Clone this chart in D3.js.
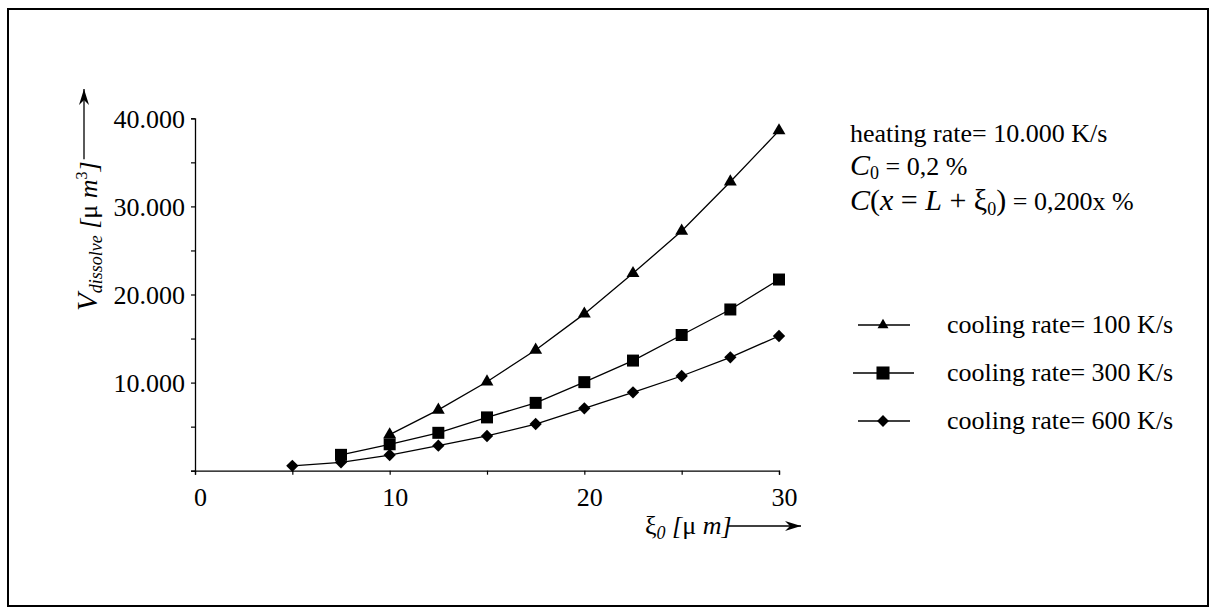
<!DOCTYPE html>
<html lang="en">
<head>
<meta charset="UTF-8">
<title>V_dissolve</title>
<script src="https://cdn.jsdelivr.net/npm/d3@7/dist/d3.min.js"></script>
<style>
    body{margin:0;background:#fff;}
    svg text{font-family:"Liberation Serif","Times New Roman",serif;fill:#000;}
</style>
</head>
<body>
<svg width="1216" height="614"></svg>
<script>
    // x = xi_0 [um], y = V_dissolve [um^3]
    var xi_100 = [10, 12.5, 15, 17.5, 20, 22.5, 25, 27.5, 30];
    var v_100  = [4100, 6900, 10100, 13700, 17800, 22400, 27200, 32800, 38600];
    var xi_300 = [7.5, 10, 12.5, 15, 17.5, 20, 22.5, 25, 27.5, 30];
    var v_300  = [1800, 3000, 4300, 6050, 7700, 10050, 12500, 15400, 18300, 21700];
    var xi_600 = [5, 7.5, 10, 12.5, 15, 17.5, 20, 22.5, 25, 27.5, 30];
    var v_600  = [550, 950, 1780, 2840, 3940, 5300, 7080, 8900, 10750, 12870, 15290];

    var series_names = ["cooling rate= 100 K/s", "cooling rate= 300 K/s", "cooling rate= 600 K/s"];
    var x_ticks = [0, 5, 10, 15, 20, 25, 30];
    var x_labels = [0, 10, 20, 30];
    var y_ticks = [0, 5000, 10000, 15000, 20000, 25000, 30000, 35000, 40000];
    var y_labels = [10000, 20000, 30000, 40000];

    var svg = d3.select("svg");

    // frame
    svg.append("rect")
        .attr("x", 8).attr("y", 9)
        .attr("width", 1200).attr("height", 597)
        .attr("fill", "none").attr("stroke", "#000").attr("stroke-width", 2);

    var x = d3.scaleLinear().domain([0, 30]).range([195, 779]);
    var y = d3.scaleLinear().domain([0, 40000]).range([470.7, 118.3]);

    var loc = d3.formatLocale({decimal: ",", thousands: ".", grouping: [3], currency: ["", ""]});
    var fmt = loc.format(",d");

    // axes
    var gx = svg.append("g").attr("transform", "translate(0," + y(0) + ")")
        .call(d3.axisBottom(x).tickValues(x_ticks).tickSize(4).tickPadding(13)
            .tickFormat(function(d){ return x_labels.indexOf(d) >= 0 ? d : ""; }));
    var gy = svg.append("g").attr("transform", "translate(" + x(0) + ",0)")
        .call(d3.axisLeft(y).tickValues(y_ticks).tickSize(4).tickPadding(6)
            .tickFormat(function(d){ return y_labels.indexOf(d) >= 0 ? fmt(d) : ""; }));
    [gx, gy].forEach(function(g){
        g.select(".domain").attr("stroke", "#000").attr("stroke-width", 1.3);
        g.selectAll(".tick line").attr("stroke", "#000").attr("stroke-width", 1.2);
        g.selectAll(".tick text").attr("font-size", 26).attr("font-family", "Liberation Serif");
    });
    gx.selectAll(".tick text").attr("dx", 5);
    gy.selectAll(".tick text").attr("dy", "0.34em");

    // arrow head
    svg.append("defs").append("marker")
        .attr("id", "arr").attr("viewBox", "0 0 16 10")
        .attr("refX", 16).attr("refY", 5)
        .attr("markerWidth", 16).attr("markerHeight", 10)
        .attr("markerUnits", "userSpaceOnUse")
        .attr("orient", "auto")
        .append("path").attr("d", "M0,0 L16,5 L0,10 L5,5 Z").attr("fill", "#000");

    // y axis title (rotated) + arrow
    var ylab = svg.append("text")
        .attr("transform", "translate(97,311) rotate(-90)")
        .attr("font-size", 26).attr("font-style", "italic");
    ylab.append("tspan").attr("font-size", 29).text("V");
    ylab.append("tspan").attr("font-size", 18).attr("dy", 5).text("dissolve");
    ylab.append("tspan").attr("dy", -5).text(" [");
    ylab.append("tspan").attr("font-style", "normal").text("μ");
    ylab.append("tspan").text(" m");
    ylab.append("tspan").attr("font-size", 16).attr("font-style", "normal").attr("dy", -10).text("3");
    ylab.append("tspan").attr("dy", 10).text("]");
    var ylen = ylab.node().getComputedTextLength();
    svg.append("line")
        .attr("x1", 84).attr("x2", 84)
        .attr("y1", 311 - ylen - 2).attr("y2", 89)
        .attr("stroke", "#000").attr("stroke-width", 1.3)
        .attr("marker-end", "url(#arr)");

    // x axis title + arrow
    var xlab = svg.append("text")
        .attr("x", 645).attr("y", 534)
        .attr("font-size", 26);
    xlab.append("tspan").text("ξ");
    xlab.append("tspan").attr("font-size", 18).attr("font-style", "italic").attr("dy", 5).text("0");
    xlab.append("tspan").attr("font-style", "italic").attr("dy", -5).text(" [");
    xlab.append("tspan").text("μ");
    xlab.append("tspan").attr("font-style", "italic").text(" m]");
    var xlen = xlab.node().getComputedTextLength();
    svg.append("line")
        .attr("x1", 645 + xlen - 4).attr("x2", 801)
        .attr("y1", 526).attr("y2", 526)
        .attr("stroke", "#000").attr("stroke-width", 1.3)
        .attr("marker-end", "url(#arr)");

    // diamond = square turned 45 degrees
    var diamond = {
        draw: function(ctx, size){
            var r = Math.sqrt(size / 2);
            ctx.moveTo(0, -r); ctx.lineTo(r, 0); ctx.lineTo(0, r); ctx.lineTo(-r, 0); ctx.closePath();
        }
    };

    // series
    var series = [
        {xs: xi_100, vs: v_100, sym: d3.symbolTriangle, size: 72},
        {xs: xi_300, vs: v_300, sym: d3.symbolSquare, size: 144},
        {xs: xi_600, vs: v_600, sym: diamond, size: 76}
    ];
    var line = d3.line().x(function(d){ return x(d[0]); }).y(function(d){ return y(d[1]); });

    series.forEach(function(s){
        var pts = s.xs.map(function(v, i){ return [v, s.vs[i]]; });
        svg.append("path").datum(pts)
            .attr("d", line)
            .attr("fill", "none").attr("stroke", "#000").attr("stroke-width", 1.3);
        svg.append("g").selectAll("path")
            .data(pts).enter().append("path")
            .attr("transform", function(d){ return "translate(" + x(d[0]) + "," + y(d[1]) + ")"; })
            .attr("d", d3.symbol().type(s.sym).size(s.size))
            .attr("fill", "#000");
    });

    // annotation text
    svg.append("text").attr("x", 850).attr("y", 142).attr("font-size", 26)
        .text("heating rate= 10.000 K/s");

    var c0 = svg.append("text").attr("x", 850).attr("y", 175).attr("font-size", 30);
    c0.append("tspan").attr("font-style", "italic").text("C");
    c0.append("tspan").attr("font-size", 18).attr("dy", 4).text("0");
    c0.append("tspan").attr("dy", -4).attr("font-size", 26).text(" = 0,2 %");

    var c1 = svg.append("text").attr("x", 850).attr("y", 210).attr("font-size", 30);
    c1.append("tspan").attr("font-style", "italic").text("C");
    c1.append("tspan").text("(");
    c1.append("tspan").attr("font-style", "italic").text("x");
    c1.append("tspan").text(" = ");
    c1.append("tspan").attr("font-style", "italic").text("L");
    c1.append("tspan").text(" + ξ");
    c1.append("tspan").attr("font-size", 18).attr("dy", 5).text("0");
    c1.append("tspan").attr("dy", -5).text(")");
    c1.append("tspan").attr("font-size", 26).text(" = 0,200x %");

    // legend
    var leg_y = [325, 373, 421];
    var leg_sizes = [52, 170, 70];
    series.forEach(function(s, i){
        var g = svg.append("g").attr("transform", "translate(0," + leg_y[i] + ")");
        g.append("line").attr("x1", i == 1 ? 853 : 858).attr("x2", i == 1 ? 914 : 910)
            .attr("y1", 0).attr("y2", 0)
            .attr("stroke", "#000").attr("stroke-width", 1.3);
        g.append("path").attr("transform", "translate(883,0)")
            .attr("d", d3.symbol().type(s.sym).size(leg_sizes[i]))
            .attr("fill", "#000");
        g.append("text").attr("x", 947).attr("y", 8).attr("font-size", 26)
            .text(series_names[i]);
    });
</script>
</body>
</html>
